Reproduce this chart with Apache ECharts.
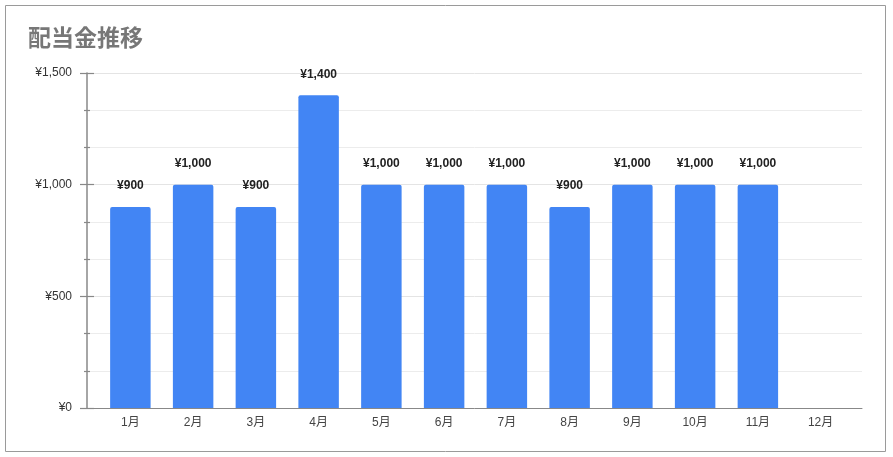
<!DOCTYPE html>
<html><head><meta charset="utf-8">
<script src="https://cdn.jsdelivr.net/npm/echarts@6/dist/echarts.min.js"></script>
<style>html,body{margin:0;padding:0;background:#fff}#c{width:893px;height:457px}</style>
</head><body><div id="c"></div>
<script>
const months = ['1月','2月','3月','4月','5月','6月','7月','8月','9月','10月','11月','12月'];
const dividends = [900,1000,900,1400,1000,1000,1000,900,1000,1000,1000,null];
const yMin = 0, yMax = 1500, yStep = 500;
const titleText = '配当金推移';

const FONT = '"Liberation Sans", Arial, "Noto Sans CJK JP", sans-serif';
const yen = v => '¥' + Number(v).toLocaleString('en-US');

const chart = echarts.init(document.getElementById('c'));
chart.setOption({
  animation: false,
  textStyle: { fontFamily: FONT },
  title: {
    text: titleText, left: 23, top: 21,
    textStyle: { fontSize: 23, fontWeight: 'bold', color: '#777', fontFamily: '"Noto Sans CJK JP", sans-serif' }
  },
  graphic: [{
    type: 'rect', silent: true,
    shape: { x: 5.5, y: 5.5, width: 880, height: 446 },
    style: { fill: 'none', stroke: '#9a9a9a', lineWidth: 1 }
  }],
  grid: [
    { left: 87, right: 31, top: 73, bottom: 49 },
    { left: 99, right: 41, top: 73, bottom: 49 }
  ],
  xAxis: [
    { gridIndex: 0, type: 'value', min: 0, max: 1, position: 'bottom',
      axisLine: { show: true, lineStyle: { color: '#888', width: 1 } },
      axisTick: { show: false }, axisLabel: { show: false }, splitLine: { show: false } },
    { gridIndex: 1, type: 'category', data: months, position: 'bottom',
      axisLine: { show: false }, axisTick: { show: false },
      axisLabel: { color: '#444', fontSize: 12, margin: 9 } }
  ],
  yAxis: [
    { gridIndex: 0, type: 'value', min: yMin, max: yMax, interval: yStep, position: 'left',
      axisLine: { show: true, lineStyle: { color: '#888', width: 1.5 } },
      axisTick: { show: true, length: 7, lineStyle: { color: '#888', width: 1.2 } },
      minorTick: { show: true, splitNumber: 3, length: 3, lineStyle: { color: '#888', width: 1.2 } },
      axisLabel: { color: '#333', fontSize: 12, margin: 15, formatter: yen },
      splitLine: { show: true, lineStyle: { color: '#e4e4e4', width: 1 } },
      minorSplitLine: { show: true, lineStyle: { color: '#ececec', width: 1 } } },
    { gridIndex: 0, type: 'value', min: yMin, max: yMax, interval: yStep, position: 'left',
      axisLine: { show: false },
      axisTick: { show: true, inside: true, length: 7, lineStyle: { color: '#888', width: 1.2 } },
      minorTick: { show: true, splitNumber: 3, length: 3, lineStyle: { color: '#888', width: 1.2 } },
      axisLabel: { show: false }, splitLine: { show: false }, minorSplitLine: { show: false } },
    { gridIndex: 1, type: 'value', min: yMin, max: yMax, interval: yStep, show: false,
      splitLine: { show: false } }
  ],
  series: [{
    type: 'bar', xAxisIndex: 1, yAxisIndex: 2,
    data: dividends, barWidth: '64.5%',
    itemStyle: { color: '#4285f4', borderRadius: [2, 2, 0, 0] },
    label: { show: true, position: 'top', distance: 15, fontSize: 12, fontWeight: 'bold', color: '#222',
      formatter: p => yen(p.value) }
  }]
});
</script></body></html>
